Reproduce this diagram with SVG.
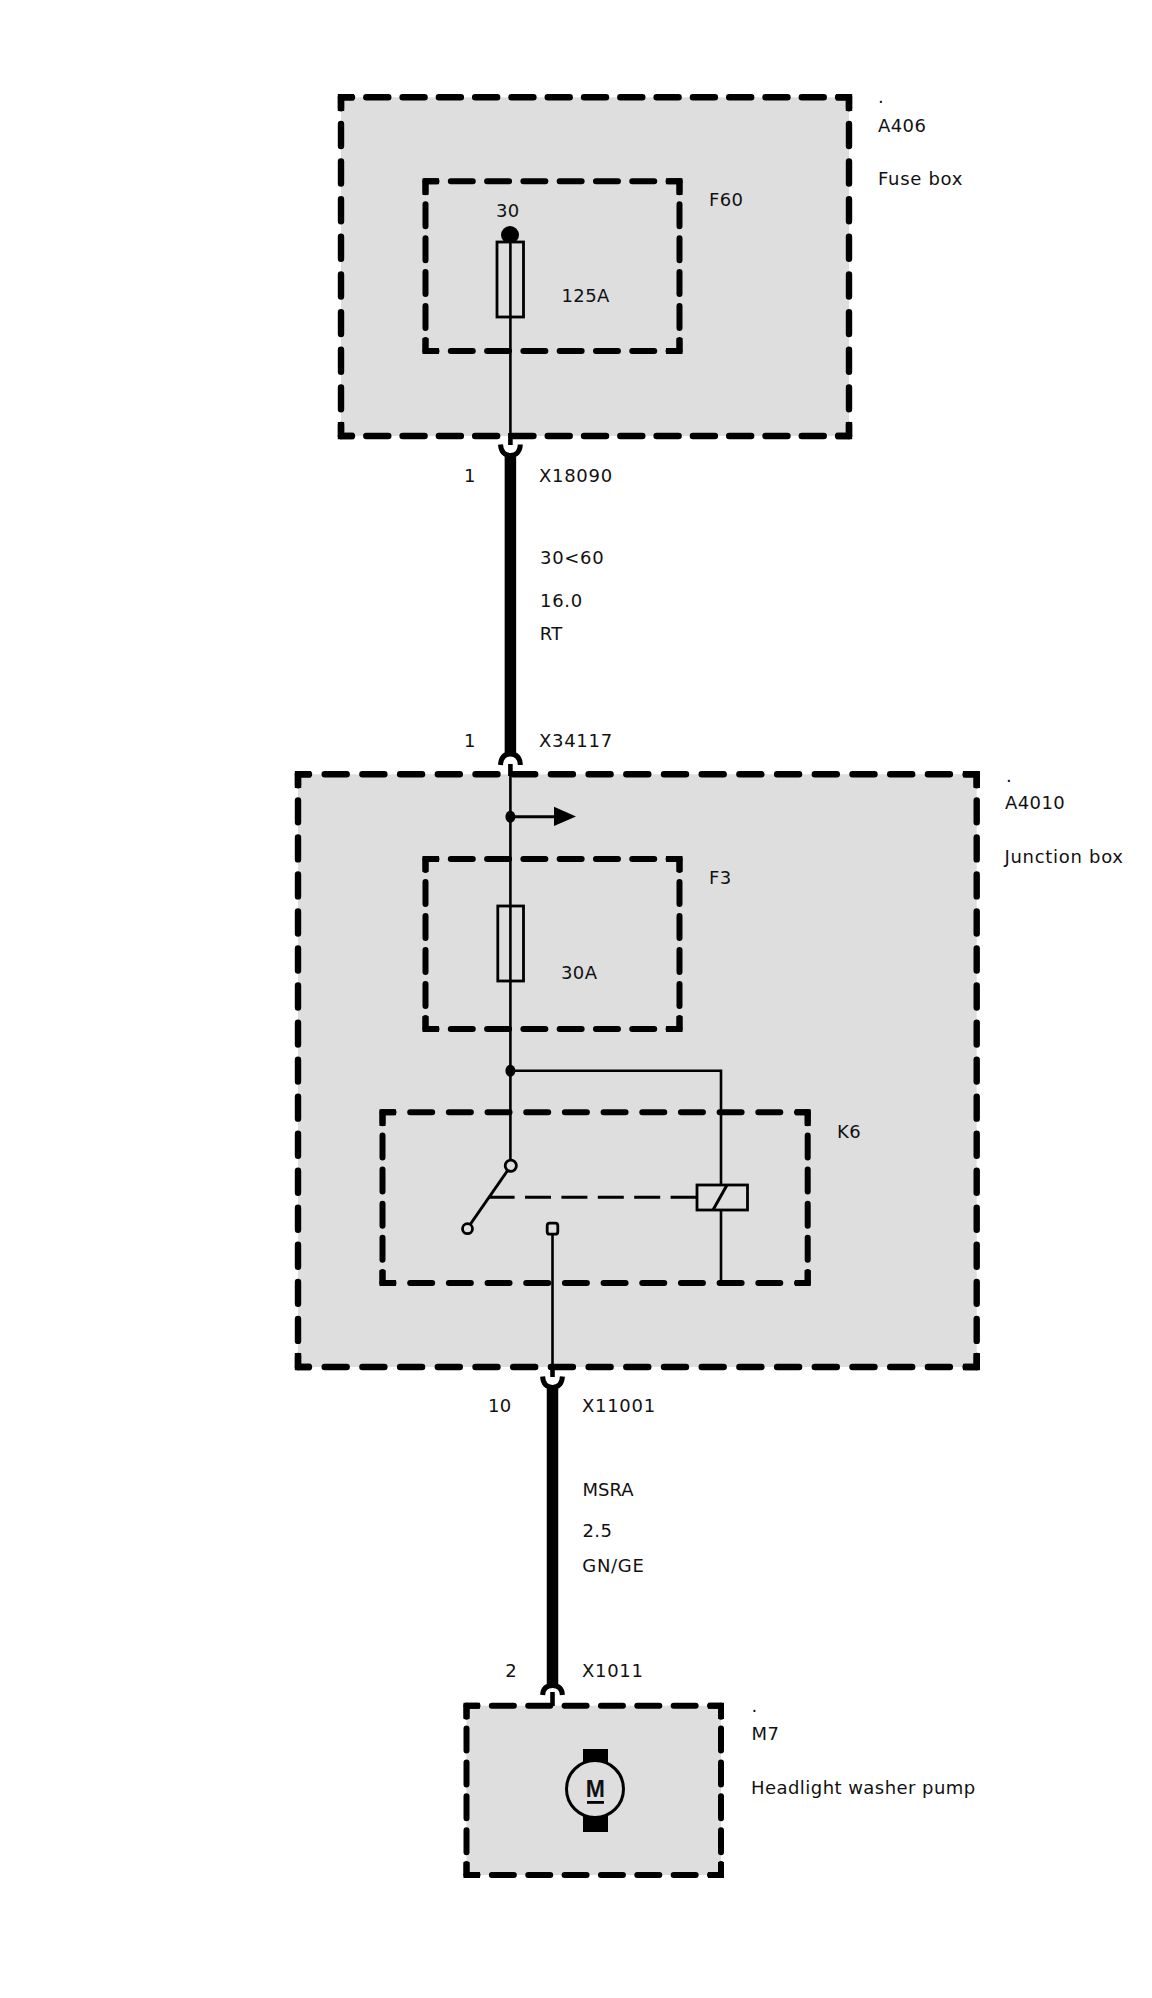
<svg xmlns="http://www.w3.org/2000/svg" width="1152" height="1998" viewBox="0 0 1152 1998">
<style>
text{font-family:"DejaVu Sans",sans-serif;font-size:18px;letter-spacing:.4px;fill:#111}
.l0{letter-spacing:0}.l7{letter-spacing:.7px}
.f{fill:#dedede;stroke:none}
.d{fill:none;stroke:#000;stroke-linecap:round;stroke-dashoffset:11}
.o{stroke-width:6.4}.i{stroke-width:6}
.c{fill:none;stroke:#000;stroke-linejoin:miter}
.w{fill:none;stroke:#000;stroke-width:2.6}
.t{fill:none;stroke:#000;stroke-width:11.5}
.s{fill:none;stroke:#000;stroke-width:4.6}
.k{fill:none;stroke:#000;stroke-width:5}
.b{fill:#dedede;stroke:#000;stroke-width:2.8}
.n{fill:#000;stroke:none}
.m{fill:none;stroke:#000;stroke-width:3}
</style>
<g id="A406">
<rect class="f" x="341" y="97.3" width="508" height="338.7"/>
<path class="d o" stroke-dasharray="22 14.29" d="M341 97.3H849M341 436H849"/>
<path class="d o" stroke-dasharray="22 15.63" d="M341 97.3V436M849 97.3V436"/>
<path class="c o" d="M354 97.3H341V111M354 436H341V422M836 97.3H849V111M836 436H849V422"/>
<text x="878" y="103">.</text><text x="878" y="131.7">A406</text><text class="l7" x="878" y="185">Fuse box</text>
</g>
<g id="F60">
<path class="d i" stroke-dasharray="22 14.29" d="M425.5 181.3H679.5M425.5 351H679.5"/>
<path class="d i" stroke-dasharray="22 11.94" d="M425.5 181.3V351M679.5 181.3V351"/>
<path class="c i" d="M439 181.3H425.5V195M439 351H425.5V338M666 181.3H679.5V195M666 351H679.5V338"/>
<circle class="n" cx="510" cy="235" r="9"/>
<rect class="b" x="497" y="242" width="26.5" height="75"/>
<text x="496" y="217">30</text><text x="561.5" y="302">125A</text><text x="709" y="206">F60</text>
</g>
<g id="A4010">
<rect class="f" x="298" y="774.3" width="678.7" height="592.7"/>
<path class="d o" stroke-dasharray="22 15.7" d="M298 774.3H976.7M298 1367H976.7"/>
<path class="d o" stroke-dasharray="22 15.04" d="M298 774.3V1367M976.7 774.3V1367"/>
<path class="c o" d="M311 774.3H298V788M311 1367H298V1353M963 774.3H976.7V788M963 1367H976.7V1353"/>
<text x="1006" y="781.7">.</text><text x="1005" y="809">A4010</text><text class="l7" x="1004.5" y="863">Junction box</text>
</g>
<g id="F3">
<path class="d i" stroke-dasharray="22 14.29" d="M425.5 859H679.5M425.5 1029H679.5"/>
<path class="d i" stroke-dasharray="22 12" d="M425.5 859V1029M679.5 859V1029"/>
<path class="c i" d="M439 859H425.5V872M439 1029H425.5V1016M666 859H679.5V872M666 1029H679.5V1016"/>
<text x="709" y="884">F3</text><text x="561" y="979">30A</text>
</g>
<g id="K6">
<path class="d i" stroke-dasharray="22 16.68" d="M382.5 1112.3H807.7M382.5 1283H807.7"/>
<path class="d i" stroke-dasharray="22 12.14" d="M382.5 1112.3V1283M807.7 1112.3V1283"/>
<path class="c i" d="M396 1112.3H382.5V1126M396 1283H382.5V1270M795 1112.3H807.7V1126M795 1283H807.7V1270"/>
<text x="837" y="1138">K6</text>
</g>
<g id="M7">
<rect class="f" x="466.5" y="1705.7" width="254.5" height="169.3"/>
<path class="d i" stroke-dasharray="22 14.36" d="M466.5 1705.7H721M466.5 1875H721"/>
<path class="d i" stroke-dasharray="22 11.86" d="M466.5 1705.7V1875M721 1705.7V1875"/>
<path class="c i" d="M480 1705.7H466.5V1719M480 1875H466.5V1862M708 1705.7H721V1719M708 1875H721V1862"/>
<rect class="n" x="583" y="1749" width="25" height="83"/>
<circle cx="595" cy="1789" r="28.5" fill="#dedede" stroke="#000" stroke-width="3"/>
<text x="595.3" y="1797" text-anchor="middle" style="font-family:'Liberation Sans',sans-serif;font-size:23px;font-weight:700;letter-spacing:0">M</text>
<rect class="n" x="587" y="1801" width="17" height="2.8"/>
<text x="751.5" y="1712">.</text><text x="751.5" y="1740">M7</text><text x="751" y="1794" style="letter-spacing:.45px">Headlight washer pump</text>
</g>
<g id="connectors">
<path class="w" d="M510.4 242V433"/>
<path class="s" d="M510.4 433V445"/>
<path class="k" d="M500.5 444.5C501 452 505 455.5 510.4 455.5C516 455.5 520 452 520.3 444.5"/>
<path class="t" d="M510.4 455V754"/>
<path class="k" d="M500.5 765C501 757 505 754 510.4 754C516 754 520 757 520.3 765"/>
<path class="s" d="M510.4 764V776"/>
<path class="w" d="M510.4 776V1160"/>
<ellipse class="n" cx="510.4" cy="816.7" rx="5" ry="6"/>
<path class="m" d="M510.4 816.7H556"/>
<path class="n" d="M554 806.7L576 816.5L554 826Z"/>
<rect class="b" x="497.8" y="906" width="25.7" height="75"/>
<path class="w" d="M510.4 906V981"/>
<ellipse class="n" cx="510.4" cy="1070.7" rx="5" ry="6"/>
<path class="w" d="M510.4 1070.7H721V1185M721 1210V1283"/>
<circle class="b" cx="510.8" cy="1165.7" r="5.6"/>
<circle class="b" cx="467.5" cy="1228.7" r="5"/>
<path class="m" d="M507.6 1170.5L470.5 1224"/>
<path class="m" stroke-dasharray="26 10.4" d="M488.6 1197.3H697"/>
<rect class="b" x="697" y="1185" width="50.5" height="25"/>
<path class="m" d="M713 1210L727 1185"/>
<rect class="b" x="547.2" y="1223.2" width="10.6" height="11" rx="2.5"/>
<path class="w" d="M552.5 1234V1367"/>
<path class="s" d="M552.5 1367V1377"/>
<path class="k" d="M542.6 1376.5C543 1384 547 1387.5 552.5 1387.5C558 1387.5 562 1384 562.4 1376.5"/>
<path class="t" d="M552.5 1387V1685.5"/>
<path class="k" d="M542.6 1695C543 1688 547 1685.5 552.5 1685.5C558 1685.5 562 1688 562.4 1695"/>
<path class="s" d="M552.5 1692V1706"/>
</g>
<g id="labels">
<text x="464" y="481.7">1</text><text class="l7" x="539" y="481.7">X18090</text>
<text class="l7" x="540" y="564.3">30&lt;60</text><text class="l7" x="540" y="607.3">16.0</text><text x="539.7" y="640">RT</text>
<text x="464" y="747">1</text><text class="l7" x="539" y="747">X34117</text>
<text x="488" y="1411.7">10</text><text class="l7" x="582" y="1411.7">X11001</text>
<text class="l0" x="582.5" y="1496">MSRA</text><text x="582.5" y="1537.3">2.5</text><text class="l7" x="582.3" y="1572.3">GN/GE</text>
<text x="505.3" y="1676.7">2</text><text class="l7" x="582" y="1676.7">X1011</text>
</g>
</svg>
